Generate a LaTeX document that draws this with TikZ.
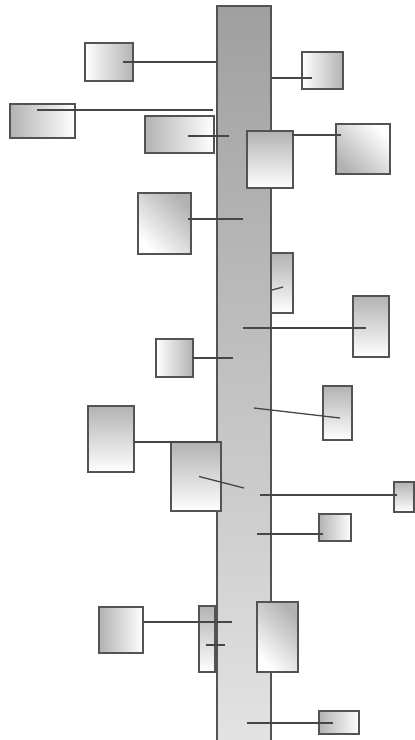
\documentclass[tikz,border=0pt]{standalone}
\usetikzlibrary{calc}

\begin{document}
\begin{tikzpicture}[
  x=1pt,y=-1pt,
  box/.style={draw=gray!65!black,line width=1.4pt,inner sep=0pt,outer sep=0pt},
  tbox/.style={box,top color=gray!60,bottom color=white},
  lbox/.style={box,left color=gray!60,right color=white},
  rbox/.style={box,left color=white,right color=gray!60},
  dbox/.style={box,top color=white,bottom color=gray!60,shading angle=-45},
  ubox/.style={box,top color=gray!60,bottom color=white,shading angle=-45},
  link/.style={draw=gray!55!black,line width=1.3pt}
]
\clip (0,0) rectangle (415,740);
\node[box,top color=gray!75,bottom color=gray!22,minimum width=54pt,minimum height=739pt] (bar) at (244,375.5) {};

% left side
\node[rbox,minimum width=48pt,minimum height=38pt] (l1) at (109,62) {};
\node[lbox,minimum width=65pt,minimum height=34pt] (l2) at (42.5,121) {};
\node[lbox,minimum width=69pt,minimum height=37pt] (l3) at (179.5,134.5) {};
\node[ubox,minimum width=53pt,minimum height=61pt] (l4) at (164.5,223.5) {};
\node[rbox,minimum width=37pt,minimum height=38pt] (l5) at (174.5,358) {};
\node[tbox,minimum width=46pt,minimum height=66pt] (l6) at (111,439) {};
\node[tbox,minimum width=50pt,minimum height=69pt] (l7) at (196,476.5) {};
\node[lbox,minimum width=44pt,minimum height=46pt] (l8) at (121,630) {};
\node[tbox,minimum width=16pt,minimum height=66pt] (l9) at (207,639) {};

% right side
\node[rbox,minimum width=41pt,minimum height=37pt] (r1) at (322.5,70.5) {};
\node[tbox,minimum width=46pt,minimum height=57pt] (r2) at (270,159.5) {};
\node[dbox,minimum width=54pt,minimum height=50pt] (r3) at (363,149) {};
\node[tbox,minimum width=22pt,minimum height=60pt] (r4) at (282,283) {};
\node[tbox,minimum width=36pt,minimum height=61pt] (r5) at (371,326.5) {};
\node[tbox,minimum width=29pt,minimum height=54pt] (r6) at (337.5,413) {};
\node[tbox,minimum width=20pt,minimum height=30pt] (r7) at (404,497) {};
\node[lbox,minimum width=32pt,minimum height=27pt] (r8) at (335,527.5) {};
\node[ubox,minimum width=41pt,minimum height=70pt] (r9) at (277.5,637) {};
\node[lbox,minimum width=40pt,minimum height=23pt] (r10) at (339,722.5) {};

% taps
\draw[link] ([xshift=14pt]l1.center) -- (l1.center -| bar.west);
\draw[link] ($(l2.center)+(-5.5,-11)$) coordinate (l2t) -- ($(l2t -| bar.west)+(-4,0)$);
\draw[link] ($(l3.center)+(8.5,1.5)$) coordinate (l3t) -- ($(l3t -| bar.west)+(12,0)$);
\draw[link] ($(l4.center)+(23.5,-4.5)$) coordinate (l4t) -- ($(l4t -| bar.west)+(26,0)$);
\draw[link] (l5.east) -- ($(l5.east -| bar.west)+(16,0)$);
\draw[link] ($(l6.east)+(0,3)$) coordinate (l6t) -- ($(l6t -| bar.west)+(3,0)$);
\draw[link] ($(l7.center)+(3,0)$) -- ($(l7.center -| bar.west)+(27,11.5)$);
\draw[link] ($(l8.east)+(0,-8)$) coordinate (l8t) -- ($(l8t -| bar.west)+(15,0)$);
\draw[link] ($(l9.center)+(-1,6)$) coordinate (l9t) -- ($(l9t -| bar.west)+(8,0)$);

\draw[link] ($(r1.center)+(-10.5,7.5)$) coordinate (r1t) -- (r1t -| bar.east);
\draw[link] ($(r2.north east)+(-1,4)$) -- ($(r3.center)+(-22,-14)$);
\draw[link] ($(r4.center)+(-10,7)$) -- ($(r4.center)+(1,4)$);
\draw[link] ($(r5.center)+(-5,1.5)$) coordinate (r5t) -- ($(r5t -| bar.west)+(26,0)$);
\draw[link] ($(r6.center)+(2.5,5)$) -- ($(r6.center -| bar.west)+(37,-5)$);
\draw[link] ($(r7.center)+(-7,-2)$) coordinate (r7t) -- ($(r7t -| bar.west)+(43,0)$);
\draw[link] ($(r8.center)+(-12,6.5)$) coordinate (r8t) -- ($(r8t -| bar.west)+(40,0)$);
\draw[link] ($(r10.center)+(-6,0.5)$) coordinate (r10t) -- ($(r10t -| bar.west)+(30,0)$);
\end{tikzpicture}
\end{document}
